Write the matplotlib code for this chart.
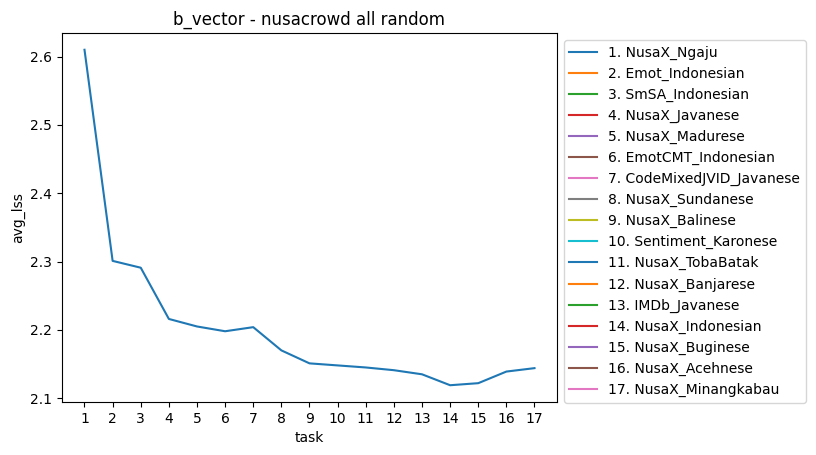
import matplotlib
matplotlib.use("Agg")
import matplotlib.pyplot as plt

tasks = list(range(1, 18))
avg_lss = [2.610, 2.301, 2.291, 2.216, 2.205, 2.198, 2.204, 2.170, 2.151,
           2.148, 2.145, 2.141, 2.135, 2.119, 2.122, 2.139, 2.144]
task_names = [
    "NusaX_Ngaju", "Emot_Indonesian", "SmSA_Indonesian", "NusaX_Javanese",
    "NusaX_Madurese", "EmotCMT_Indonesian", "CodeMixedJVID_Javanese",
    "NusaX_Sundanese", "NusaX_Balinese", "Sentiment_Karonese",
    "NusaX_TobaBatak", "NusaX_Banjarese", "IMDb_Javanese",
    "NusaX_Indonesian", "NusaX_Buginese", "NusaX_Acehnese",
    "NusaX_Minangkabau",
]

fig = plt.figure(figsize=(8.16, 4.55), dpi=100)
ax = fig.add_axes([62 / 816, 53 / 455, 495 / 816, 369 / 455])

ax.plot(tasks, avg_lss, label=f"1. {task_names[0]}")
# remaining tasks only show up in the legend
for i, name in enumerate(task_names[1:], start=2):
    ax.plot([], [], label=f"{i}. {name}")

ax.set_xticks(tasks)
ax.set_title("b_vector - nusacrowd all random")
ax.set_xlabel("task")
ax.set_ylabel("avg_lss")
ax.legend(loc="upper left", bbox_to_anchor=(1, 1))

fig.savefig("out.png")
